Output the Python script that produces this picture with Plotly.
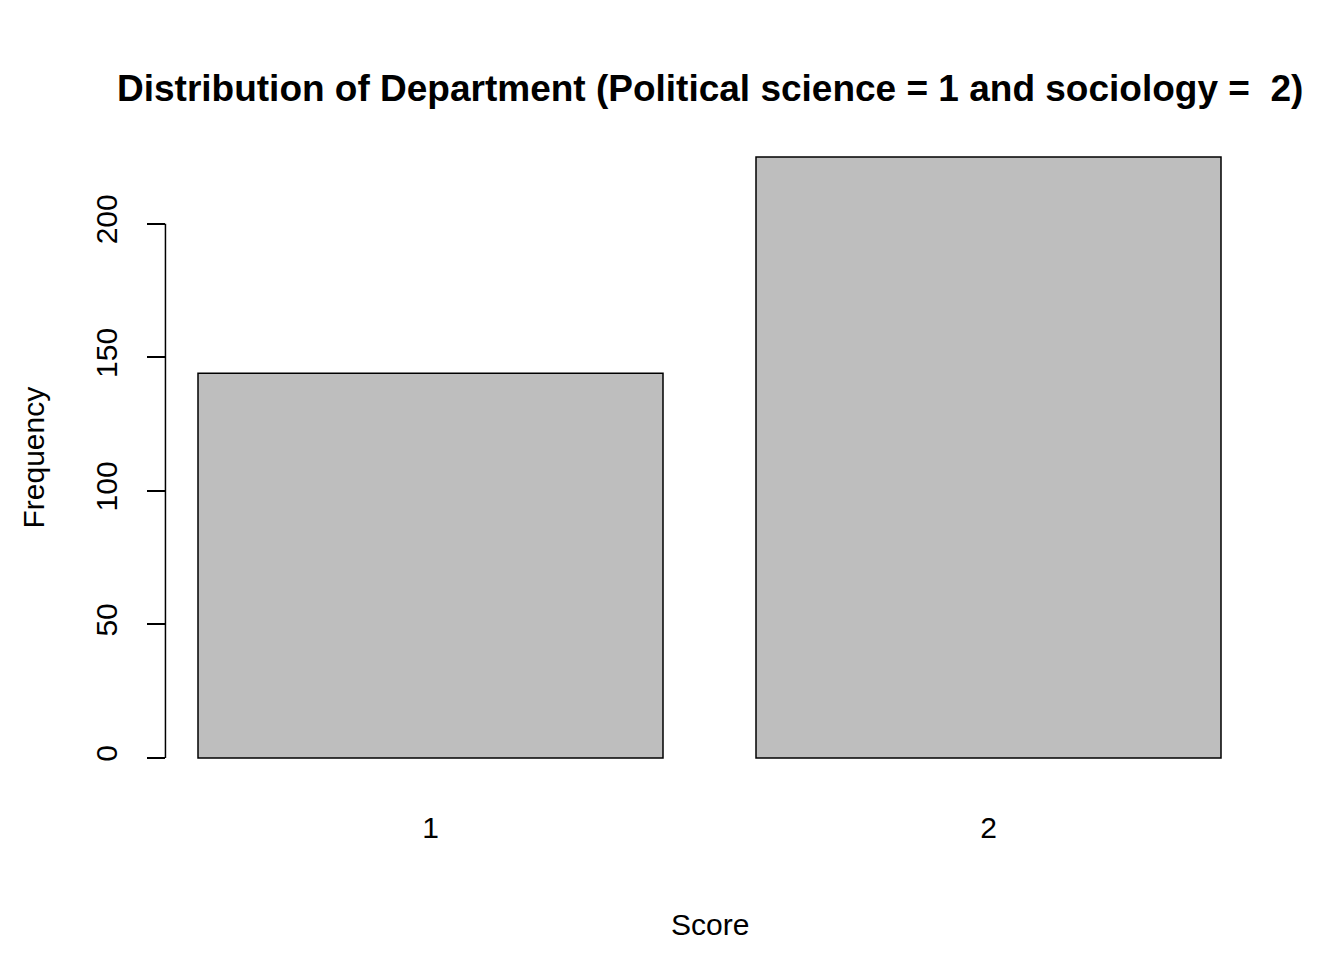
import plotly.graph_objects as go

categories = ["1", "2"]
frequencies = [144, 225]
y_ticks = [0, 50, 100, 150, 200]

# R barplot layout: width 1, space 0.2
centers = [0.7, 1.9]

fig = go.Figure(
    go.Bar(
        x=centers,
        y=frequencies,
        width=1.0,
        marker=dict(color="#bebebe", line=dict(color="black", width=1.5)),
        hoverinfo="skip",
    )
)

font = dict(family="Liberation Sans, Arial, sans-serif", color="black")

fig.update_layout(
    width=1344,
    height=960,
    plot_bgcolor="white",
    paper_bgcolor="white",
    showlegend=False,
    margin=dict(l=97, r=38, t=125, b=186),
    font=font,
    annotations=[
        dict(
            text="<b>Distribution of Department (Political science = 1 and sociology =  2)</b>",
            xref="paper", yref="paper", x=0.5, y=1, yshift=45, yanchor="middle",
            showarrow=False, font=dict(size=37, **font), xanchor="center",
        ),
        dict(
            text="Score", xref="paper", yref="paper", x=0.5, y=0, yshift=-142,
            yanchor="middle", showarrow=False, font=dict(size=30, **font),
        ),
        dict(
            text="Frequency", xref="paper", yref="paper", x=0, xshift=-72, y=0.5,
            xanchor="center", textangle=-90, showarrow=False, font=dict(size=30, **font),
        ),
    ],
    shapes=[
        dict(type="line", xref="paper", yref="y", x0=0.05, x1=0.05,
             y0=0, y1=200, line=dict(color="black", width=1.5)),
    ],
)

fig.update_xaxes(
    range=[0, 2.6],
    tickvals=centers,
    ticktext=categories,
    showgrid=False,
    zeroline=False,
    showline=False,
    ticks="",
    ticklabelstandoff=25,
    tickfont=dict(size=30, **font),
)

fig.update_yaxes(
    range=[-9, 234],
    anchor="free",
    position=0.05,
    tickvals=y_ticks,
    tickangle=-90,
    ticks="outside",
    ticklen=18,
    tickwidth=1.5,
    tickcolor="black",
    ticklabelstandoff=18,
    showgrid=False,
    zeroline=False,
    showline=False,
    tickfont=dict(size=30, **font),
)

fig.write_html("out.html")
